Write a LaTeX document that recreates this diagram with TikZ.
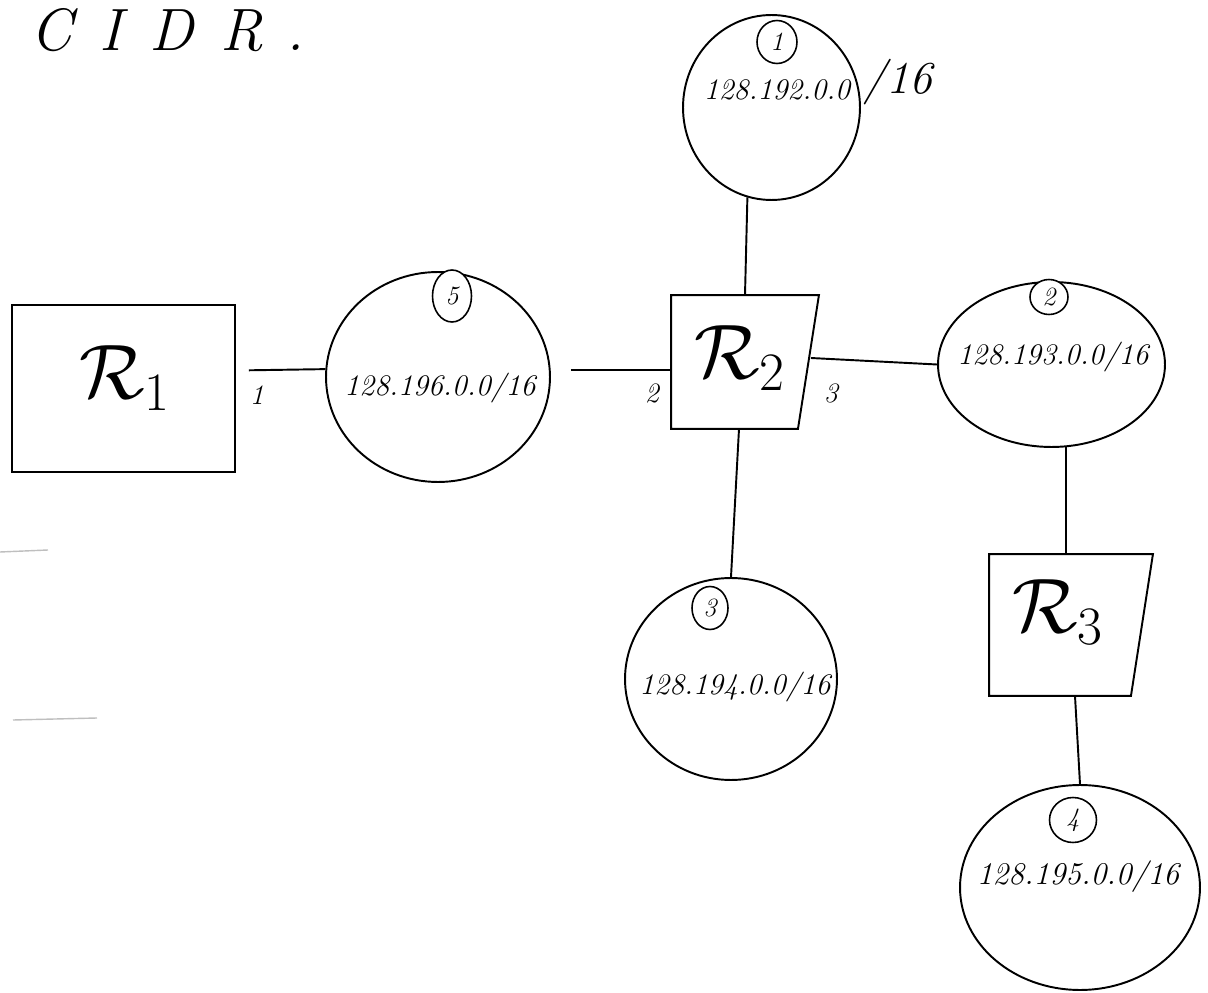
\RequirePackage{fix-cm}
\documentclass[tikz,border=0pt]{standalone}
\usetikzlibrary{shapes.geometric,calc}
\begin{document}
\begin{tikzpicture}[x=0.02cm,y=-0.02cm,
  line width=1.1pt,
  net/.style={draw,ellipse,inner sep=0pt},
  tag/.style={draw,ellipse,fill=white,inner sep=0pt,line width=0.9pt,font=\fontsize{15}{17}\selectfont\itshape},
  addr/.style={font=\fontsize{17}{20}\selectfont\itshape,inner sep=0pt},
  rbox/.style={draw,rectangle,inner sep=0pt},
  rframe/.style={rectangle,inner sep=0pt},
  rlab/.style={font=\fontsize{44}{50}\selectfont},
  port/.style={font=\fontsize{16}{18}\selectfont\itshape,inner sep=0pt},
  faint/.style={draw=black!25,line width=0.8pt}]
\useasboundingbox (0,0) rectangle (1208,993);

% title
\node[font=\fontsize{34}{40}\selectfont\itshape,inner sep=0pt] (title) at (167,30) {C\hspace{0.55cm}I\hspace{0.55cm}D\hspace{0.55cm}R\hspace{0.45cm}.};

% routers
\node[rbox,minimum width=4.46cm,minimum height=3.34cm] (r1) at (123.5,388.5) {};
\node[rlab] (r1l) at (125,378) {$\mathcal{R}_1$};
\node[rframe,minimum width=2.92cm,minimum height=2.64cm] (r2) at (745,362) {};
\draw (r2.north west) -- (r2.north east) -- ($(r2.south east)+(-21,0)$) -- (r2.south west) -- cycle;
\node[rlab] (r2l) at (740,358) {$\mathcal{R}_2$};
\node[rframe,minimum width=3.24cm,minimum height=2.8cm] (r3) at (1071,625) {};
\draw (r3.north west) -- (r3.north east) -- ($(r3.south east)+(-22,0)$) -- (r3.south west) -- cycle;
\node[rlab] (r3l) at (1058,612) {$\mathcal{R}_3$};

% networks
\node[net,minimum width=3.54cm,minimum height=3.7cm] (n1) at (771.5,107.5) {};
\node[net,minimum width=4.48cm,minimum height=4.2cm] (n5) at (438,377) {};
\node[net,minimum width=4.54cm,minimum height=3.3cm] (n2) at (1051.5,364.5) {};
\node[net,minimum width=4.24cm,minimum height=4.04cm] (n3) at (731,679) {};
\node[net,minimum width=4.8cm,minimum height=4.1cm] (n4) at (1080,887.5) {};

% circled numbers
\node[tag,minimum width=0.8cm,minimum height=0.86cm] (t1) at (777,42) {1};
\node[tag,minimum width=0.78cm,minimum height=1.04cm] (t5) at (452,296) {5};
\node[tag,minimum width=0.76cm,minimum height=0.7cm] (t2) at (1049,297) {2};
\node[tag,minimum width=0.72cm,minimum height=0.86cm] (t3) at (710,608) {3};
\node[tag,minimum width=0.94cm,minimum height=0.9cm] (t4) at (1073,820) {4};

% addresses
\node[addr] (a1) at (777,90) {128.192.0.0};
\node[font=\fontsize{26}{30}\selectfont\itshape,inner sep=0pt] (a1m) at (898,82) {/16};
\node[addr] (a5) at (440,388) {128.196.0.0/16};
\node[addr] (a2) at (1053,357) {128.193.0.0/16};
\node[addr] (a3) at (735,687) {128.194.0.0/16};
\node[addr,font=\fontsize{18}{21}\selectfont\itshape] (a4) at (1078,877) {128.195.0.0/16};

% port labels
\node[port] (p1) at (257,395) {1};
\node[port] (p2) at (652,393) {2};
\node[port] (p3) at (831,393) {3};

% connectors
\draw[shorten <=0.26cm] ($(r1.east)+(0,-18)$) -- (n5.176);
\draw ($(n5.east)+(20,-7)$) -- ($(r2.west)+(0,8)$);
\draw ($(r2.east)+(-8,-4)$) -- (n2.west);
\draw (r2.north) -- (n1.255);
\draw ($(r2.south)+(-6,0)$) -- (n3.north);
\draw (n2.280) -- (n2.280 |- r3.north);
\draw ($(r3.south)+(4,0)$) -- (n4.north);

% faint scan marks
\draw[faint] (13,720) -- (97,718);
\draw[faint] (0,552) -- (48,550);
\end{tikzpicture}
\end{document}
